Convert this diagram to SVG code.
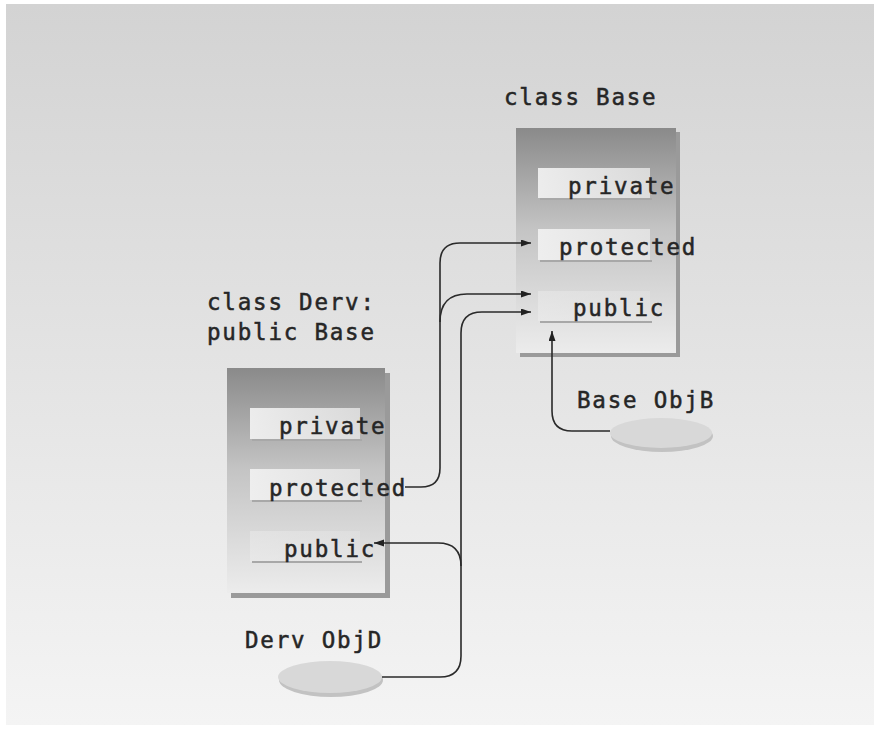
<svg xmlns="http://www.w3.org/2000/svg" width="880" height="735" viewBox="0 0 880 735">
<defs>
<linearGradient id="bg" x1="0" y1="0" x2="0" y2="1">
<stop offset="0" stop-color="#d3d3d3"/>
<stop offset="1" stop-color="#f4f4f4"/>
</linearGradient>
<linearGradient id="box" x1="0" y1="0" x2="0" y2="1">
<stop offset="0" stop-color="#8a8a8a"/>
<stop offset="0.45" stop-color="#c4c4c4"/>
<stop offset="1" stop-color="#ececec"/>
</linearGradient>
<linearGradient id="bar" x1="0" y1="0" x2="1" y2="0">
<stop offset="0" stop-color="#f0f0f0" stop-opacity="0.95"/>
<stop offset="1" stop-color="#e8e8e8" stop-opacity="0.8"/>
</linearGradient>
<marker id="arr" markerUnits="userSpaceOnUse" markerWidth="11" markerHeight="8" refX="10" refY="3.5" orient="auto">
<path d="M0,0 L10,3.5 L0,7 z" fill="#222"/>
</marker>
<style>
.t{font-family:"DejaVu Sans Mono","Liberation Mono",monospace;font-size:22.5px;fill:#262626;stroke:#262626;stroke-width:0.5px;letter-spacing:1.8px}
.shadow{fill:#9a9a9a}
.box{fill:url(#box)}
.bar{fill:url(#bar)}
.barline{stroke:#a8a8a8;stroke-width:2}
.ell{fill:#d8d8d8}
.ellsh{fill:#c2c2c2}
.c{fill:none;stroke:#2a2a2a;stroke-width:1.6}
</style>
</defs>
<rect x="0" y="0" width="880" height="735" fill="#ffffff"/>
<rect x="6" y="4" width="868" height="721" fill="url(#bg)"/>

<g id="base-class">
<text class="t" x="504" y="105">class Base</text>
<rect class="shadow" x="520" y="132" width="160" height="225"/>
<rect class="box" x="516" y="128" width="160" height="225"/>
<rect class="bar" x="538" y="168" width="112" height="30"/>
<line class="barline" x1="540" y1="199" x2="652" y2="199"/>
<text class="t" x="568" y="194">private</text>
<rect class="bar" x="538" y="229" width="112" height="31"/>
<line class="barline" x1="540" y1="261" x2="652" y2="261"/>
<text class="t" x="559" y="255">protected</text>
<rect class="bar" x="538" y="291" width="112" height="30" opacity="0.45"/>
<line class="barline" x1="540" y1="322" x2="652" y2="322"/>
<text class="t" x="573" y="316">public</text>
</g>

<g id="derv-class">
<text class="t" x="207" y="310">class Derv:</text>
<text class="t" x="207" y="340">public Base</text>
<rect class="shadow" x="231" y="373" width="159" height="225"/>
<rect class="box" x="227" y="368" width="158" height="225"/>
<rect class="bar" x="250" y="408" width="110" height="31"/>
<line class="barline" x1="252" y1="440" x2="362" y2="440"/>
<text class="t" x="279" y="434">private</text>
<rect class="bar" x="250" y="469" width="110" height="31"/>
<line class="barline" x1="252" y1="501" x2="362" y2="501"/>
<text class="t" x="269" y="496">protected</text>
<rect class="bar" x="250" y="531" width="110" height="31" opacity="0.45"/>
<line class="barline" x1="252" y1="562" x2="362" y2="562"/>
<text class="t" x="284" y="557">public</text>
</g>

<g id="obj-b">
<ellipse class="ellsh" cx="662" cy="436" rx="51" ry="16"/>
<ellipse class="ell" cx="661" cy="433" rx="51" ry="15"/>
<text class="t" x="577" y="408">Base ObjB</text>
</g>

<g id="obj-d">
<ellipse class="ellsh" cx="331" cy="680" rx="52" ry="17"/>
<ellipse class="ell" cx="330" cy="677" rx="52" ry="16"/>
<text class="t" x="245" y="648">Derv ObjD</text>
</g>

<g id="connectors">
<path class="c" d="M405 487 H421 Q440 487 440 468 V263 Q440 243 460 243 H531" marker-end="url(#arr)"/>
<path class="c" d="M440 322 Q440 294 467 294 H531" marker-end="url(#arr)"/>
<path class="c" d="M382 677 H440 Q461 677 461 656 V333 Q461 312 482 312 H531" marker-end="url(#arr)"/>
<path class="c" d="M461 566 Q461 543 438 543 H374" marker-end="url(#arr)"/>
<path class="c" d="M610 431 H572 Q552 431 552 411 V331" marker-end="url(#arr)"/>
</g>
</svg>
